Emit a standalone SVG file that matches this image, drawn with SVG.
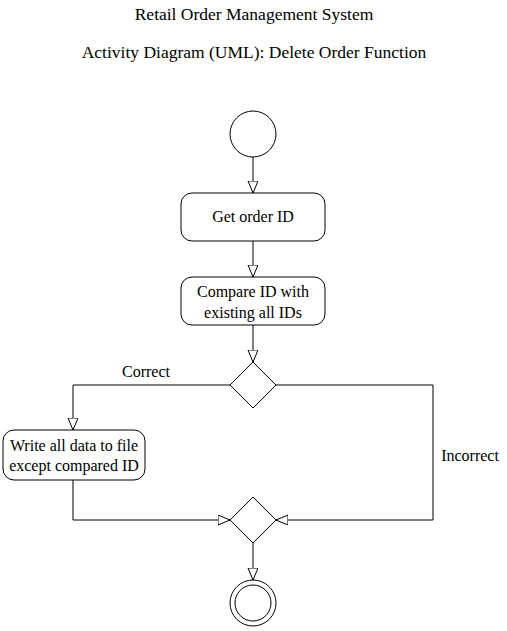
<svg xmlns="http://www.w3.org/2000/svg" width="507" height="631" viewBox="0 0 507 631">
<defs>
<style>
.t{text-anchor:middle}
.n{fill:#fff;stroke:#000;stroke-width:1}
.e{fill:none;stroke:#000;stroke-width:1}
</style>
<marker id="a" markerWidth="14" markerHeight="12" refX="12" refY="5" orient="auto" markerUnits="userSpaceOnUse">
<path d="M0,0 L12,5 L0,10 Z" fill="#fff" stroke="#000" stroke-width="1"/>
</marker>
</defs>
<rect width="507" height="631" fill="#fff"/>
<g font-family="'Liberation Serif', 'Times New Roman', serif" font-size="16" fill="#000">
<text class="t" x="254" y="20" font-size="17.5">Retail Order Management System</text>
<text class="t" x="254" y="58" font-size="17.5">Activity Diagram (UML): Delete Order Function</text>
<g id="connectors">
<path class="e" d="M253,157 V193" marker-end="url(#a)"/>
<path class="e" d="M253,241 V277" marker-end="url(#a)"/>
<path class="e" d="M253,325 V362" marker-end="url(#a)"/>
<path class="e" d="M230,385 H73 V430" marker-end="url(#a)"/>
<path class="e" d="M73,480 V520 H230" marker-end="url(#a)"/>
<path class="e" d="M276,385 H433 V520 H276" marker-end="url(#a)"/>
<path class="e" d="M253,543 V580" marker-end="url(#a)"/>
<text class="t" x="146" y="377">Correct</text>
<text class="t" x="470" y="461">Incorrect</text>
</g>
<g id="start"><circle class="n" cx="253" cy="134" r="23"/></g>
<g id="getId"><rect class="n" x="181" y="193" width="144" height="48" rx="11"/><text class="t" x="253" y="222">Get order ID</text></g>
<g id="compare"><rect class="n" x="181" y="277" width="144" height="48" rx="11"/><text class="t" x="253" y="297">Compare ID with</text><text class="t" x="253" y="318">existing all IDs</text></g>
<g id="decision"><path class="n" d="M253,362 L276,385 L253,408 L230,385 Z"/></g>
<g id="write"><rect class="n" x="3" y="430" width="142" height="50" rx="11"/><text class="t" x="74" y="451">Write all data to file</text><text class="t" x="74" y="471">except compared ID</text></g>
<g id="merge"><path class="n" d="M253,497 L276,520 L253,543 L230,520 Z"/></g>
<g id="end"><circle class="n" cx="253" cy="603" r="23"/><circle class="n" cx="253" cy="603" r="18"/></g>
</g>
</svg>
